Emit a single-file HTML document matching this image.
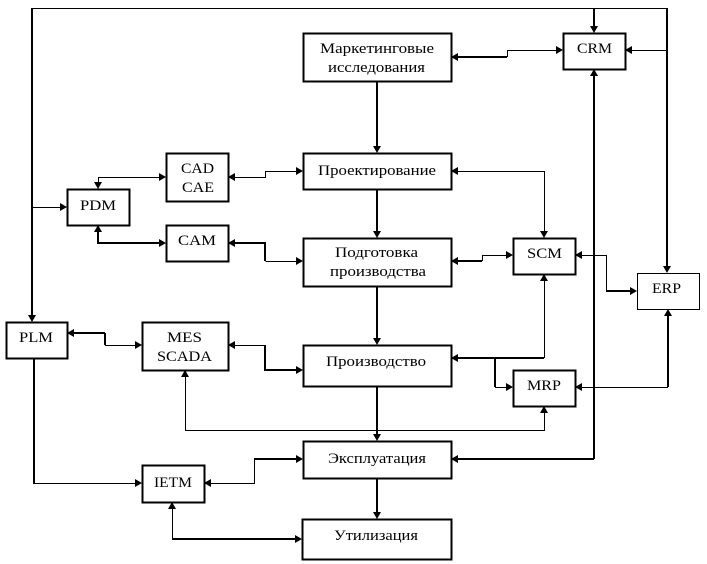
<!DOCTYPE html>
<html><head><meta charset="utf-8"><style>
html,body{margin:0;padding:0;background:#fff;width:707px;height:564px;overflow:hidden}
svg{display:block}
text{font-family:"Liberation Serif","Noto Serif CJK SC",serif;font-size:15px;fill:#000;text-anchor:middle}
.b{fill:#fff;stroke:#000;stroke-width:2}
.t{fill:none;stroke:#000;stroke-width:1}
.k{fill:none;stroke:#000;stroke-width:2}
</style></head><body>
<svg width="707" height="564" viewBox="0 0 707 564" xmlns="http://www.w3.org/2000/svg" shape-rendering="crispEdges">
<!-- thin lines -->
<path class="t" d="M32.5 8.5H667.5M32 207.5H62M98.5 185V177.5H161M233 177.5H265.5V171.5H298M265.5 261.5H298M507.5 57V50.5H558M630 50.5H667M456 171.5H544.5V233M482.5 261V255.5H508M580 255.5H606.5V291M544.5 279V358M495 387.5H508M580 387.5H668M185.5 375V430.5H544.5V411M105 345.5H137M233 345.5H265M34 483.5H137M209 483.5H254.5V460M172.5 507V539"/>
<!-- thick lines -->
<path class="k" d="M32 8V317M34 358V484M594 8V28M667 8V268M98 230V243H161M233 243H265V261M456 57H507M377 81V148M377 189V233M377 286V340M377 386V436M377 478V514M456 261H482M606 291H632M594 74V459M456 459H594M457 358H544M495 358V387M668 314V387M105 333V345M72 333H105M265 345V370H298M254 459H298M172 539H297"/>
<!-- boxes -->
<rect class="b" x="303.5" y="33.5" width="148" height="48"/>
<rect class="b" x="563.5" y="33.5" width="62" height="36"/>
<rect class="b" x="303.5" y="153.5" width="148" height="36"/>
<rect class="b" x="166.5" y="153.5" width="62" height="48"/>
<rect class="b" x="67.5" y="189.5" width="62" height="36"/>
<rect class="b" x="166.5" y="225.5" width="62" height="36"/>
<rect class="b" x="303.5" y="238.5" width="148" height="48"/>
<rect class="b" x="513.5" y="238.5" width="62" height="36"/>
<rect class="b" style="stroke-width:1" x="637.5" y="273.5" width="62" height="36"/>
<rect class="b" x="6.5" y="322.5" width="61" height="36"/>
<rect class="b" x="142.5" y="322.5" width="86" height="48"/>
<rect class="b" x="303.5" y="345.5" width="148" height="41"/>
<rect class="b" x="513.5" y="370.5" width="62" height="36"/>
<rect class="b" x="303.5" y="441.5" width="148" height="37"/>
<rect class="b" x="142.5" y="465.5" width="62" height="37"/>
<rect class="b" x="302.5" y="519.5" width="149" height="40"/>
<!-- arrowheads -->
<g shape-rendering="auto" fill="#000">
<path d="M67 207l-7-4v8zM166 177l-7-4v8zM303 171l-7-4v8zM166 243l-7-4v8zM303 261l-7-4v8zM563 50l-7-4v8zM513 255l-7-4v8zM637 291l-7-4v8zM513 387l-7-4v8zM142 345l-7-4v8zM303 370l-7-4v8zM142 483l-7-4v8zM303 459l-7-4v8zM302 539l-7-4v8z"/>
<path d="M228 177l7-4v8zM228 243l7-4v8zM451 57l7-4v8zM625 50l7-4v8zM451 171l7-4v8zM451 261l7-4v8zM451 459l7-4v8zM575 255l7-4v8zM451 358l7-4v8zM575 387l7-4v8zM67 333l7-4v8zM228 345l7-4v8zM204 483l7-4v8z"/>
<path d="M98 189l-4-7h8zM594 33l-4-7h8zM667 273l-4-7h8zM377 153l-4-7h8zM377 238l-4-7h8zM377 345l-4-7h8zM377 441l-4-7h8zM377 519l-4-7h8zM544 238l-4-7h8zM32 322l-4-7h8z"/>
<path d="M98 225l-4 7h8zM594 69l-4 7h8zM544 274l-4 7h8zM668 309l-4 7h8zM185 370l-4 7h8zM544 406l-4 7h8zM172 502l-4 7h8z"/>
</g>
<!-- labels -->
<g shape-rendering="auto">
<text x="377" y="53" textLength="114" lengthAdjust="spacingAndGlyphs">Маркетинговые</text>
<text x="376.5" y="72" textLength="97" lengthAdjust="spacingAndGlyphs">исследования</text>
<text x="594.5" y="53" textLength="35" lengthAdjust="spacingAndGlyphs">CRM</text>
<text x="377" y="175" textLength="118" lengthAdjust="spacingAndGlyphs">Проектирование</text>
<text x="197.5" y="173" textLength="33" lengthAdjust="spacingAndGlyphs">CAD</text>
<text x="198" y="192" textLength="32" lengthAdjust="spacingAndGlyphs">CAE</text>
<text x="98" y="210" textLength="36" lengthAdjust="spacingAndGlyphs">PDM</text>
<text x="197" y="245" textLength="38" lengthAdjust="spacingAndGlyphs">CAM</text>
<text x="376.5" y="257" textLength="83" lengthAdjust="spacingAndGlyphs">Подготовка</text>
<text x="378" y="276" textLength="96" lengthAdjust="spacingAndGlyphs">производства</text>
<text x="544.5" y="258" textLength="35" lengthAdjust="spacingAndGlyphs">SCM</text>
<text x="666.5" y="293" textLength="29" lengthAdjust="spacingAndGlyphs">ERP</text>
<text x="36" y="342" textLength="34" lengthAdjust="spacingAndGlyphs">PLM</text>
<text x="184.5" y="342" textLength="35" lengthAdjust="spacingAndGlyphs">MES</text>
<text x="184.5" y="361" textLength="55" lengthAdjust="spacingAndGlyphs">SCADA</text>
<text x="376" y="366" textLength="100" lengthAdjust="spacingAndGlyphs">Производство</text>
<text x="544" y="390" textLength="34" lengthAdjust="spacingAndGlyphs">MRP</text>
<text x="377" y="463" textLength="98" lengthAdjust="spacingAndGlyphs">Эксплуатация</text>
<text x="173" y="487" textLength="38" lengthAdjust="spacingAndGlyphs">IETM</text>
<text x="376" y="540" textLength="84" lengthAdjust="spacingAndGlyphs">Утилизация</text>
</g>
</svg>
</body></html>
